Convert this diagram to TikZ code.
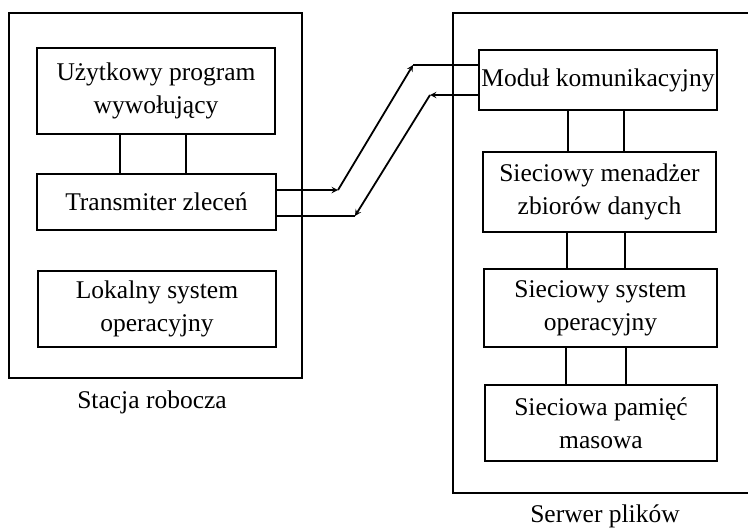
\documentclass[tikz,border=0pt]{standalone}
\usepackage{fontspec}
\setmainfont{Liberation Serif}
\usetikzlibrary{calc,positioning}

\tikzset{
	modul/.style={draw,line width=1.4pt,align=center,inner sep=0pt,
		font=\fontsize{25.5}{33}\selectfont},
	obudowa/.style={draw,line width=1.8pt},
	lacze/.style={line width=1.8pt},
	opis/.style={font=\fontsize{25.5}{30}\selectfont,inner sep=0pt}
}

\begin{document}
\begin{tikzpicture}[x=1pt,y=-1pt,>=stealth,line width=1.4pt]

	\clip (0,0) rectangle (748,530);
	\fill[white] (0,0) rectangle (748,530);

	% stacja robocza
	\draw[obudowa] (9,13) rectangle (302,378);
	\node[modul,minimum width=238pt,minimum height=86pt] (uzyt) at (156,91) {U\.zytkowy program\\wywo\l{}uj\k{a}cy};
	\node[modul,minimum width=239pt,minimum height=56pt] (trans) at (156.5,202) {Transmiter zlece\'n};
	\node[modul,minimum width=238pt,minimum height=76pt] (lokal) at (157,309) {Lokalny system\\operacyjny};
	\node[opis] (stacja) at (152,402) {Stacja robocza};

	% serwer plikow
	\draw[obudowa] (453,13) rectangle (800,493);
	\node[modul,minimum width=238pt,minimum height=60pt] (komun) at (598,80) {Modu\l{} komunikacyjny};
	\node[modul,minimum width=233pt,minimum height=80pt] (menad) at (599.5,192) {Sieciowy menad\.zer\\zbior\'ow danych};
	\node[modul,minimum width=233pt,minimum height=78pt] (sysop) at (600.5,308) {Sieciowy system\\operacyjny};
	\node[modul,minimum width=232pt,minimum height=76pt] (pamiec) at (601,423) {Sieciowa pami\k{e}\'c\\masowa};
	\node[opis] (serwer) at (605,516) {Serwer plik\'ow};

	% polaczenia wewnatrz
	\draw (uzyt.south -| 120,0) -- (trans.north -| 120,0);
	\draw (uzyt.south -| 186,0) -- (trans.north -| 186,0);
	\draw (komun.south -| 568,0) -- (menad.north -| 568,0);
	\draw (komun.south -| 624,0) -- (menad.north -| 624,0);
	\draw (menad.south -| 567,0) -- (sysop.north -| 567,0);
	\draw (menad.south -| 625,0) -- (sysop.north -| 625,0);
	\draw (sysop.south -| 566,0) -- (pamiec.north -| 566,0);
	\draw (sysop.south -| 626,0) -- (pamiec.north -| 626,0);

	% lacze
	\coordinate (p1) at (338,190);
	\coordinate (p2) at (413,65);
	\coordinate (q1) at (430,95);
	\coordinate (q2) at (355,216);

	\draw[lacze,->] (trans.east |- p1) -- (p1);
	\draw[lacze,->] (p1) -- (p2);
	\draw[lacze] (p2) -- (komun.west |- p2);

	\draw[lacze,->] (komun.west |- q1) -- (q1);
	\draw[lacze,->] (q1) -- (q2);
	\draw[lacze] (q2) -- (trans.east |- q2);

\end{tikzpicture}
\end{document}
